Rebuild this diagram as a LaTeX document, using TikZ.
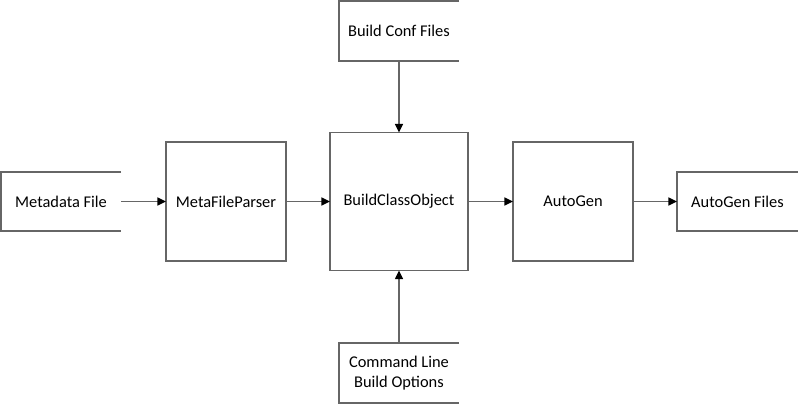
\documentclass[tikz,border=0pt]{standalone}
\usepackage{fontspec}
\setmainfont{Carlito}
\usetikzlibrary{arrows.meta}
\begin{document}
\begin{tikzpicture}[x=0.75pt,y=-0.75pt,
  box/.style={draw=black!60,line width=1.1pt,rectangle,inner sep=0pt,outer sep=0pt,align=center,font=\fontsize{12.3}{15.5}\selectfont},
  store/.style={box,draw=none},
  side/.style={draw=black!60,line width=1.1pt},
  conn/.style={draw=black!60,line width=1.1pt,-{Triangle[length=6.5pt,width=6pt,fill=black,color=black]}}]
\useasboundingbox (0,0) rectangle (798,404);
\node[store,minimum width=90pt,minimum height=44.25pt] (meta) at (61,201.5) {Metadata File};
\node[box,minimum width=90pt,minimum height=89.25pt] (parser) at (226,201.5) {MetaFileParser};
\node[box,minimum width=103.5pt,minimum height=103.5pt] (bco) at (399,201.5) {BuildClassObject};
\node[box,minimum width=90pt,minimum height=89.25pt] (autogen) at (573,201.5) {AutoGen};
\node[store,minimum width=90.75pt,minimum height=44.25pt] (agfiles) at (737.5,201.5) {AutoGen Files};
\node[store,minimum width=90pt,minimum height=45pt] (conf) at (399,31) {Build Conf Files};
\node[store,minimum width=90pt,minimum height=45pt] (cmd) at (399,373) {Command Line\\Build Options};
\foreach \n in {meta,agfiles,conf,cmd}
  \draw[side] (\n.north east) -- (\n.north west) -- (\n.south west) -- (\n.south east);
\draw[conn] (meta.east) -- (parser.west);
\draw[conn] (parser.east) -- (bco.west);
\draw[conn] (bco.east) -- (autogen.west);
\draw[conn] (autogen.east) -- (agfiles.west);
\draw[conn] (conf.south) -- (bco.north);
\draw[conn] (cmd.north) -- (bco.south);
\end{tikzpicture}
\end{document}
